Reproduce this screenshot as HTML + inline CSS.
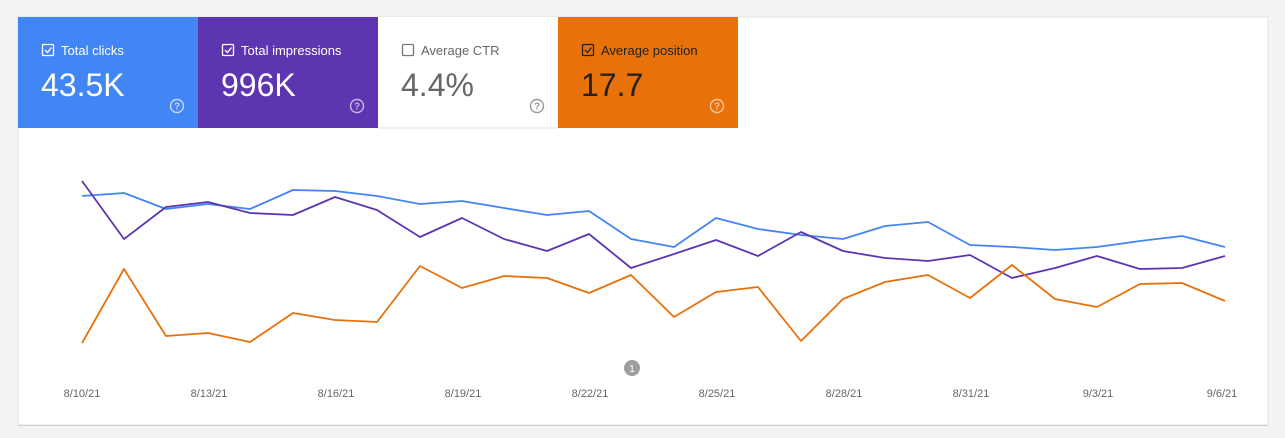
<!DOCTYPE html>
<html><head><style>
body{margin:0;background:#f1f1f1;}
svg{display:block;font-family:"Liberation Sans",sans-serif;}
</style></head><body>
<svg width="1285" height="438" xmlns="http://www.w3.org/2000/svg">
<rect width="1285" height="438" fill="#f3f3f3"/>
<rect x="18" y="17" width="1250" height="408" fill="#fff" stroke="#e0e0e0"/>
<line x1="18" y1="425.5" x2="1268" y2="425.5" stroke="#d0d0d0"/>
<rect x="18" y="17" width="180" height="111" fill="#4285f4"/>
<rect x="198" y="17" width="180" height="111" fill="#5e35b1"/>
<rect x="378" y="17" width="180" height="111" fill="#fff"/>
<line x1="378" y1="128" x2="558" y2="128" stroke="#e0e0e0"/>
<rect x="558" y="17" width="180" height="111" fill="#e8710a"/>
<g fill="none" stroke-width="1.3">
<rect x="42.5" y="44.5" width="11" height="11" rx="1" stroke="#fff"/>
<path d="M45 50l2.5 2.5 4-5" stroke="#fff"/>
<rect x="222.5" y="44.5" width="11" height="11" rx="1" stroke="#fff"/>
<path d="M225 50l2.5 2.5 4-5" stroke="#fff"/>
<rect x="402.5" y="44.5" width="11" height="11" rx="1" stroke="#757575"/>
<rect x="582.5" y="44.5" width="11" height="11" rx="1" stroke="#222"/>
<path d="M585 50l2.5 2.5 4-5" stroke="#222"/>
</g>
<g font-size="13">
<text x="61" y="55" fill="#fff">Total clicks</text>
<text x="241" y="55" fill="#fff">Total impressions</text>
<text x="421" y="55" fill="#666">Average CTR</text>
<text x="601" y="55" fill="#222">Average position</text>
</g>
<g font-size="32">
<text x="41" y="96" fill="#fff">43.5K</text>
<text x="221" y="96" fill="#fff">996K</text>
<text x="401" y="96" fill="#666">4.4%</text>
<text x="581" y="96" fill="#222">17.7</text>
</g>
<g fill="none" stroke-width="1.4">
<circle cx="177" cy="106" r="6.5" stroke="#c6dafc"/>
<circle cx="357" cy="106" r="6.5" stroke="#c9b8e6"/>
<circle cx="537" cy="106" r="6.5" stroke="#999"/>
<circle cx="717" cy="106" r="6.5" stroke="#f7c59a"/>
</g>
<g font-size="10" font-weight="bold" text-anchor="middle">
<text x="177" y="109.5" fill="#c6dafc">?</text>
<text x="357" y="109.5" fill="#c9b8e6">?</text>
<text x="537" y="109.5" fill="#999">?</text>
<text x="717" y="109.5" fill="#f7c59a">?</text>
</g>
<g fill="none" stroke-width="1.8" stroke-linejoin="round">
<polyline stroke="#4285f4" points="82,196 124,193 166,209 208,204 250,209 293,190 335,191 377,196 420,204 462,201 504,208 547,215 589,211 631,239 674,247 716,218 758,229 801,235 843,239 885,226 928,222 970,245 1012,247 1055,250 1097,247 1140,241 1182,236 1225,247"/>
<polyline stroke="#5e35b1" points="82,181 124,239 166,207 208,202 250,213 293,215 335,197 377,210 420,237 462,218 504,239 547,251 589,234 631,268 674,254 716,240 758,256 801,232 843,251 885,258 928,261 970,255 1012,278 1055,268 1097,256 1140,269 1182,268 1225,256"/>
<polyline stroke="#e8710a" points="82,343 124,269 166,336 208,333 250,342 293,313 335,320 377,322 420,266 462,288 504,276 547,278 589,293 631,275 674,317 716,292 758,287 801,341 843,299 885,282 928,275 970,298 1012,265 1055,299 1097,307 1140,284 1182,283 1225,301"/>
</g>
<circle cx="632" cy="368" r="8" fill="#9e9e9e"/>
<text x="632" y="372" font-size="10" fill="#fff" text-anchor="middle">1</text>
<g font-size="11" fill="#666" text-anchor="middle">
<text x="82" y="397">8/10/21</text>
<text x="209" y="397">8/13/21</text>
<text x="336" y="397">8/16/21</text>
<text x="463" y="397">8/19/21</text>
<text x="590" y="397">8/22/21</text>
<text x="717" y="397">8/25/21</text>
<text x="844" y="397">8/28/21</text>
<text x="971" y="397">8/31/21</text>
<text x="1098" y="397">9/3/21</text>
<text x="1222" y="397">9/6/21</text>
</g>
</svg>
</body></html>
